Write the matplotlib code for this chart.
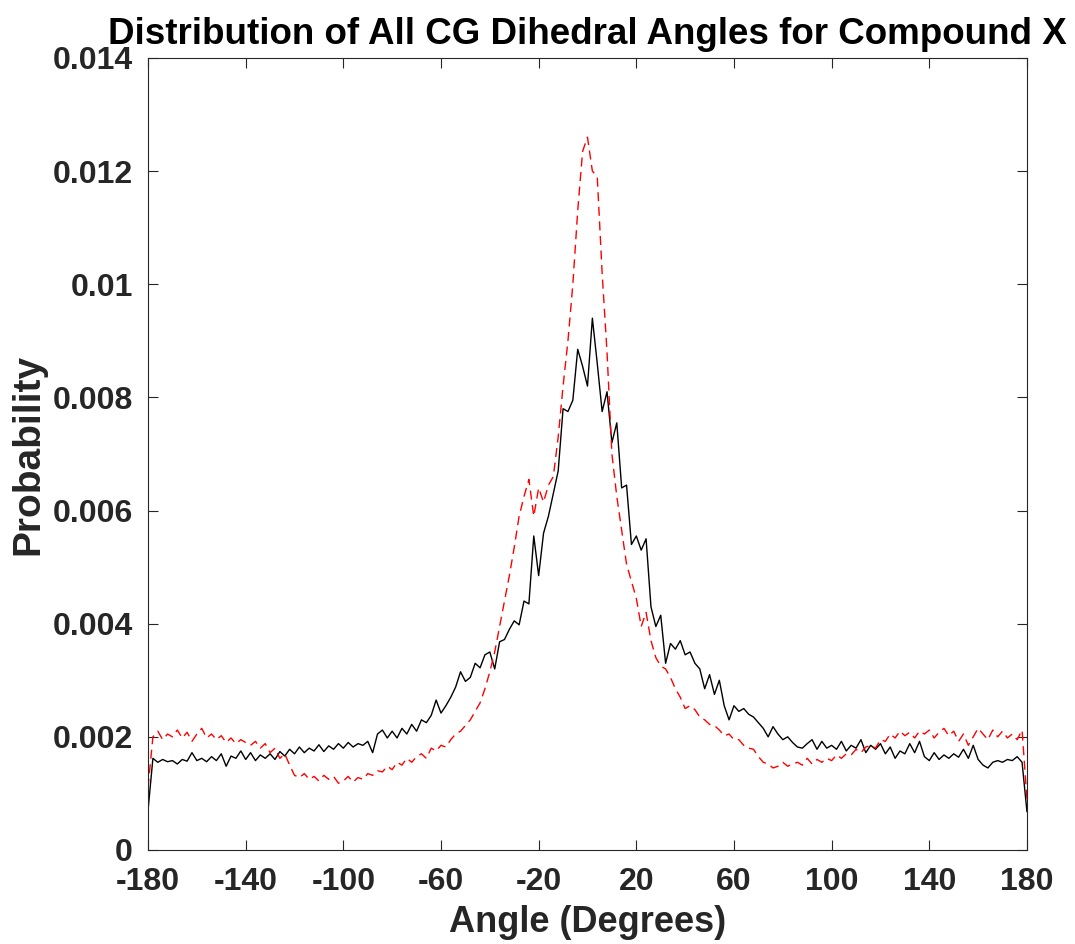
import numpy as np
import matplotlib
matplotlib.use("Agg")
import matplotlib.pyplot as plt

plt.rcParams['font.family'] = ['Liberation Sans', 'DejaVu Sans']
plt.rcParams['font.weight'] = 'bold'
plt.rcParams['axes.unicode_minus'] = False

# bin centres, 2 degree bins
angles = np.arange(-180, 181, 2)

# probabilities (x 1e-3)
black_vals = [
    0.70, 1.62, 1.55, 1.60, 1.56, 1.58, 1.52, 1.60, 1.57, 1.72,
    1.58, 1.62, 1.56, 1.65, 1.58, 1.70, 1.48, 1.66, 1.62, 1.75,
    1.60, 1.72, 1.58, 1.68, 1.62, 1.70, 1.60, 1.74, 1.66, 1.78,
    1.70, 1.82, 1.72, 1.80, 1.75, 1.86, 1.74, 1.84, 1.78, 1.88,
    1.80, 1.90, 1.82, 1.88, 1.85, 1.92, 1.72, 2.05, 2.12, 1.98,
    2.10, 1.98, 2.15, 2.05, 2.22, 2.10, 2.30, 2.25, 2.38, 2.65,
    2.42, 2.55, 2.70, 2.88, 3.15, 2.98, 3.05, 3.30, 3.22, 3.45,
    3.50, 3.20, 3.68, 3.72, 3.90, 4.05, 3.98, 4.40, 4.35, 5.55,
    4.85, 5.60, 5.90, 6.30, 6.70, 7.80, 7.75, 7.95, 8.85, 8.55,
    8.20, 9.40, 8.60, 7.75, 8.10, 7.20, 7.55, 6.40, 6.45, 5.40,
    5.55, 5.30, 5.50, 4.30, 3.95, 4.15, 3.30, 3.65, 3.55, 3.70,
    3.45, 3.50, 3.30, 3.20, 2.85, 3.10, 2.75, 3.00, 2.55, 2.30,
    2.55, 2.45, 2.50, 2.40, 2.35, 2.25, 2.15, 2.00, 2.18, 2.05,
    1.95, 2.00, 1.90, 1.82, 1.80, 1.88, 1.95, 1.78, 1.92, 1.80,
    1.85, 1.78, 1.92, 1.75, 1.85, 1.80, 1.95, 1.72, 1.85, 1.78,
    1.88, 1.70, 1.82, 1.62, 1.75, 1.70, 1.88, 1.72, 1.92, 1.65,
    1.58, 1.72, 1.60, 1.68, 1.62, 1.70, 1.64, 1.78, 1.62, 1.85,
    1.60, 1.50, 1.45, 1.55, 1.58, 1.55, 1.60, 1.58, 1.65, 1.55,
    0.68,
]

red_vals = [
    1.10, 2.00, 2.10, 1.95, 2.05, 2.00, 2.12, 1.98, 2.08, 1.92,
    2.05, 2.15, 1.98, 2.05, 1.95, 2.02, 1.90, 1.98, 1.88, 1.95,
    1.90, 1.85, 1.92, 1.80, 1.88, 1.72, 1.80, 1.62, 1.70, 1.50,
    1.32, 1.28, 1.35, 1.25, 1.30, 1.22, 1.32, 1.25, 1.30, 1.18,
    1.22, 1.30, 1.20, 1.28, 1.25, 1.35, 1.32, 1.40, 1.38, 1.48,
    1.42, 1.55, 1.50, 1.62, 1.55, 1.65, 1.70, 1.62, 1.80, 1.75,
    1.85, 1.82, 1.95, 2.05, 2.10, 2.20, 2.30, 2.45, 2.60, 2.85,
    3.15, 3.50, 3.95, 4.40, 4.85, 5.35, 5.90, 6.25, 6.55, 5.90,
    6.40, 6.15, 6.45, 6.60, 7.30, 8.20, 9.00, 10.00, 11.30, 12.35,
    12.60, 12.00, 11.90, 10.20, 8.80, 7.00, 6.25, 5.65, 5.05, 4.75,
    4.45, 3.95, 4.20, 3.70, 3.40, 3.25, 3.20, 3.05, 2.85, 2.70,
    2.50, 2.55, 2.48, 2.35, 2.30, 2.22, 2.20, 2.12, 2.02, 2.05,
    1.95, 1.95, 1.85, 1.80, 1.78, 1.65, 1.55, 1.52, 1.45, 1.48,
    1.55, 1.48, 1.52, 1.55, 1.50, 1.62, 1.52, 1.60, 1.55, 1.62,
    1.58, 1.68, 1.62, 1.70, 1.68, 1.78, 1.72, 1.82, 1.85, 1.80,
    1.95, 1.92, 2.05, 1.98, 2.10, 2.02, 2.08, 1.98, 2.10, 2.05,
    2.12, 1.98, 2.08, 2.15, 2.02, 2.10, 1.92, 2.05, 1.85, 2.00,
    2.15, 2.05, 1.95, 2.12, 2.00, 2.10, 1.98, 2.05, 1.95, 2.12,
    0.90,
]

xticks = [-180, -140, -100, -60, -20, 20, 60, 100, 140, 180]
yticks = [0, 0.002, 0.004, 0.006, 0.008, 0.01, 0.012, 0.014]
ytick_labels = ['0', '0.002', '0.004', '0.006', '0.008', '0.01', '0.012', '0.014']

black = np.array(black_vals) * 1e-3
red = np.array(red_vals) * 1e-3

fig = plt.figure(figsize=(10.75, 9.44), dpi=100)
ax = fig.add_axes([0.1377, 0.0996, 0.8176, 0.8390])

ax.plot(angles, black, color='black', lw=1.0)
ax.plot(angles, red, color='#ff0000', lw=1.0, ls=(0, (6.5, 4)))

ax.set_xlim(-180, 180)
ax.set_ylim(0, 0.014)
ax.set_xticks(xticks)
ax.set_yticks(yticks)
ax.set_yticklabels(ytick_labels)

ax.tick_params(direction='in', top=True, right=True, length=7, width=0.8,
               labelsize=23, colors='#262626')
ax.tick_params(axis='x', pad=12)
ax.tick_params(axis='y', pad=11)
for sp in ax.spines.values():
    sp.set_color('#262626')
    sp.set_linewidth(0.8)

ax.set_xlabel('Angle (Degrees)', fontsize=26, fontweight='bold', color='#262626', labelpad=6)
ax.set_ylabel('Probability', fontsize=28, fontweight='bold', color='#262626', labelpad=4)
ax.set_title('Distribution of All CG Dihedral Angles for Compound X',
             fontsize=26.5, fontweight='bold', pad=10)

fig.savefig('out.png', dpi=100)
